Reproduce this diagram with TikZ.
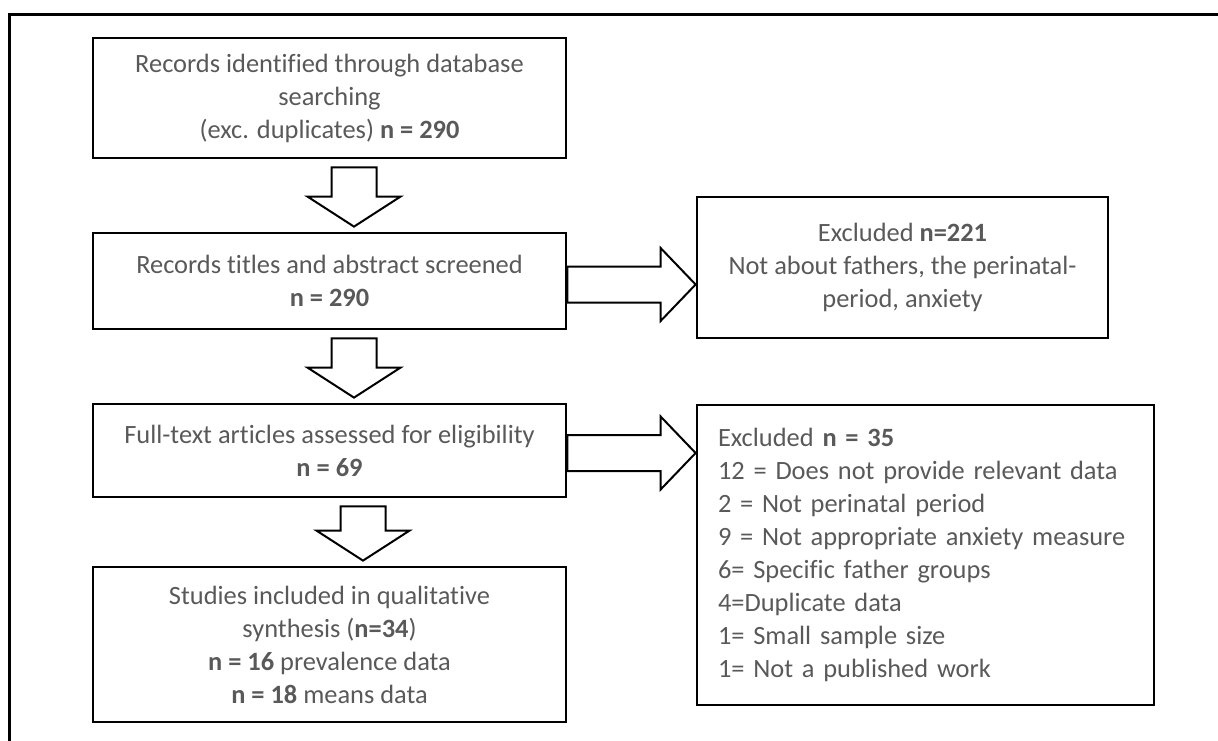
\documentclass[tikz,border=0pt]{standalone}
\usepackage{fontspec}
\setmainfont{Carlito}[Ligatures=NoCommon]
\usetikzlibrary{calc}
\definecolor{TextClr}{rgb}{0.35,0.35,0.35}

\tikzset{
  flowbox/.style={draw=black,line width=1.4pt,text=TextClr,align=center,
    inner sep=0pt,font=\fontsize{13.2}{16.5}\selectfont},
  stagebox/.style={flowbox,minimum width=236.5pt},
  blockarrow/.style={draw=black,line width=1pt,fill=white,line join=miter}
}

% down block arrow: from node, to node, x shift (px)
\newcommand{\DownArrow}[3]{%
  \draw[blockarrow] let \p1=($(#1.south)+(#3,8)$), \p2=($(#2.north)+(#3,-5)$) in
    (\x1-11.25pt,\y1) -- (\x1+11.25pt,\y1) -- (\x1+11.25pt,\y2+15pt)
    -- (\x1+23.25pt,\y2+15pt) -- (\x1,\y2) -- (\x1-23.25pt,\y2+15pt)
    -- (\x1-11.25pt,\y2+15pt) -- cycle;}
% right block arrow: from node, to node, y shift (px)
\newcommand{\RightArrow}[3]{%
  \draw[blockarrow] let \p1=($(#1.east)+(0,#3)$), \p2=(#2.west) in
    (\x1,\y1+9pt) -- (\x2-17.5pt,\y1+9pt) -- (\x2-17.5pt,\y1+18.25pt)
    -- (\x2,\y1) -- (\x2-17.5pt,\y1-18.25pt) -- (\x2-17.5pt,\y1-9pt)
    -- (\x1,\y1-9pt) -- cycle;}

\begin{document}
\begin{tikzpicture}[x=0.5pt,y=-0.5pt]
\useasboundingbox (0,0) rectangle (1218,740);

% frame
\draw[line width=1.5pt] (1230,14) -- (9,14) -- (9,750);

\node[stagebox,minimum height=60pt] (records) at (329.5,98)
  {Records identified through database\\searching\\(exc. duplicates) \textbf{n = 290}};
\node[stagebox,minimum height=48pt] (screened) at (329.5,281)
  {Records titles and abstract screened\\\textbf{n = 290}};
\node[stagebox,minimum height=46.5pt] (fulltext) at (329.5,450.5)
  {Full-text articles assessed for eligibility\\\textbf{n = 69}};
\node[stagebox,minimum height=77.5pt] (included) at (329.5,644.5)
  {Studies included in qualitative\\synthesis (\textbf{n=34})\\\textbf{n = 16} prevalence data\\\textbf{n = 18} means data};

\node[flowbox,minimum width=205.5pt,minimum height=70.5pt] (exclA) at (902.5,267.5)
  {Excluded \textbf{n=221}\\Not about fathers, the perinatal-\\period, anxiety};
\node[flowbox,align=left,text width=207.5pt,inner xsep=10.5pt,minimum height=150pt] (exclB) at (925.5,555)
  {Excluded \textbf{n = 35}\\12 = Does not provide relevant data\\2 = Not perinatal period\\9 = Not appropriate anxiety measure\\6= Specific father groups\\4=Duplicate data\\1= Small sample size\\1= Not a published work};

\DownArrow{records}{screened}{24.5}
\DownArrow{screened}{fulltext}{24.5}
\DownArrow{fulltext}{included}{33.5}
\RightArrow{screened}{exclA}{3.5}
\RightArrow{fulltext}{exclB}{2.5}

\end{tikzpicture}
\end{document}
